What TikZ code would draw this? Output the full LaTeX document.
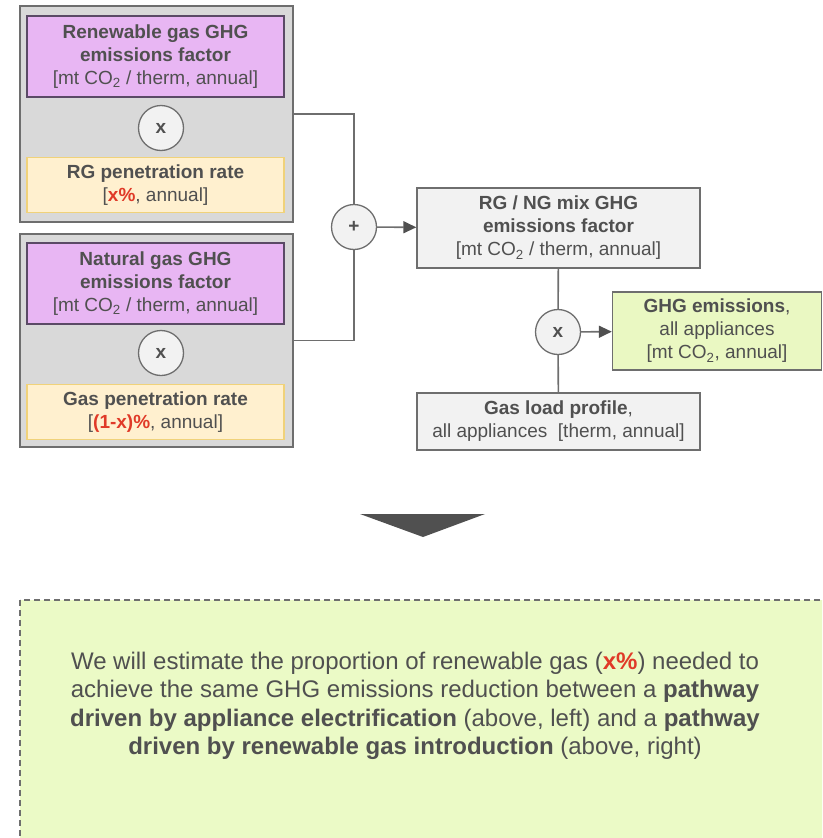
\documentclass[tikz,border=0pt]{standalone}
\usepackage{fontspec}
\setmainfont{Liberation Sans}
\usepackage{tikz}
\usetikzlibrary{arrows.meta,positioning,calc}

\definecolor{txtgray}{HTML}{505050}
\definecolor{linegray}{HTML}{6E6E6E}
\definecolor{grpfill}{HTML}{D9D9D9}
\definecolor{purplefill}{HTML}{E8B6F3}
\definecolor{purpleline}{HTML}{5B4A66}
\definecolor{yellowfill}{HTML}{FFF0CF}
\definecolor{yellowline}{HTML}{F0D27A}
\definecolor{lightfill}{HTML}{F2F2F2}
\definecolor{greenfill}{HTML}{EAF8C2}
\definecolor{notefill}{HTML}{EBFAC6}
\definecolor{redx}{HTML}{E03A28}
\definecolor{arrowgray}{HTML}{505050}

\newcommand{\boxfont}{\fontsize{19}{23}\selectfont}
\newcommand{\notefont}{\fontsize{24}{28.5}\selectfont}
\newcommand{\red}[1]{\textcolor{redx}{\textbf{#1}}}

\begin{document}
\begin{tikzpicture}[x=1pt, y=-1pt, >={Triangle[length=13pt,width=12pt,color=arrowgray]}, semithick,
    group/.style={rectangle,draw=linegray,fill=grpfill,line width=1.4pt},
    purplebox/.style={rectangle,draw=purpleline,fill=purplefill,line width=1.1pt,
      minimum width=257pt,minimum height=81pt,inner sep=0pt,align=center,
      text=txtgray,font=\boxfont},
    yellowbox/.style={rectangle,draw=yellowline,fill=yellowfill,line width=1.1pt,
      minimum width=257pt,minimum height=55pt,inner sep=0pt,align=center,
      text=txtgray,font=\boxfont},
    lightbox/.style={rectangle,draw=linegray,fill=lightfill,line width=1.4pt,
      inner sep=0pt,align=center,text=txtgray,font=\boxfont},
    greenbox/.style={rectangle,draw=linegray,fill=greenfill,line width=1.4pt,
      inner sep=0pt,align=center,text=txtgray,font=\boxfont},
    op/.style={circle,draw=linegray,fill=lightfill,line width=1.3pt,
      minimum size=45pt,inner sep=0pt,text=txtgray,font=\boxfont\bfseries},
    link/.style={draw=linegray,line width=1.6pt}]
  \useasboundingbox (0,0) rectangle (822,838);
  \clip (0,0) rectangle (822,838);
  % renewable gas branch
  \node[group,minimum width=273pt,minimum height=216pt] at (156.5,114) (grpA) {};
  \node[purplebox] at (155.5,56.5) (rgef) {\textbf{Renewable gas GHG}\\ \textbf{emissions factor}\\ {[}mt CO\textsubscript{2} / therm, annual]};
  \node[op] at (161,128) (xa) {x};
  \node[yellowbox] at (155.5,185) (rgpen) {\textbf{RG penetration rate}\\ {[}\red{x\%}, annual]};
  % natural gas branch
  \node[group,minimum width=273pt,minimum height=213pt] at (156.5,340.5) (grpB) {};
  \node[purplebox] at (155.5,283.5) (ngef) {\textbf{Natural gas GHG}\\ \textbf{emissions factor}\\ {[}mt CO\textsubscript{2} / therm, annual]};
  \node[op] at (161,353) (xb) {x};
  \node[yellowbox] at (155.5,412) (gaspen) {\textbf{Gas penetration rate}\\ {[}\red{(1-x)\%}, annual]};
  % mix and emissions
  \node[op] at (354,227) (plus) {+};
  \node[lightbox,minimum width=283pt,minimum height=80pt] at (558.5,228) (mix) {\textbf{RG / NG mix GHG}\\ \textbf{emissions factor}\\ {[}mt CO\textsubscript{2} / therm, annual]};
  \node[op] at (558,332) (xc) {x};
  \node[lightbox,minimum width=283pt,minimum height=57pt] at (558.5,421.5) (load) {\textbf{Gas load profile},\\ all appliances\ \ {[}therm, annual]};
  \node[greenbox,minimum width=209pt,minimum height=78pt] at (717,331) (ghg) {\textbf{GHG emissions},\\ all appliances\\ {[}mt CO\textsubscript{2}, annual]};
    \draw[link] (grpA.east) -| (plus.north);
    \draw[link] (grpB.east) -| (plus.south);
    \draw[link,->] (plus) -- (mix);
    \draw[link] (xc) -- (mix);
    \draw[link] (xc) -- (load);
    \draw[link,->] (xc) -- (ghg);
  % conclusion
  \fill[arrowgray] (360,514) -- (485,514) -- (423,537) -- cycle;
  \draw[dash pattern=on 6pt off 4pt,draw=linegray,fill=notefill,line width=1.1pt] (20,600) rectangle (840,860);
  \node[align=center,text=txtgray,font=\notefont] at (415,706) (note)
    {We will estimate the proportion of renewable gas (\red{x\%}) needed to\\
     achieve the same GHG emissions reduction between a \textbf{pathway}\\
     \textbf{driven by appliance electrification} (above, left) and a \textbf{pathway}\\
     \textbf{driven by renewable gas introduction} (above, right)};
\end{tikzpicture}
\end{document}
